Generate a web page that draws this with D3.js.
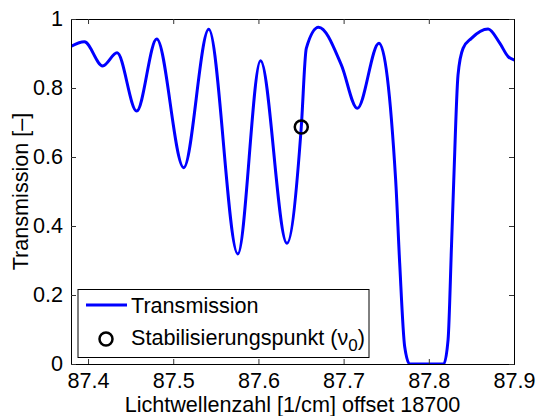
<!DOCTYPE html>
<html>
<head>
<meta charset="utf-8">
<script src="https://cdn.jsdelivr.net/npm/d3@7"></script>
<style>
  body { margin: 0; background: #fff; }
  svg text { font-family: "Liberation Sans", Arial, sans-serif; }
</style>
</head>
<body>
<svg id="chart" width="536" height="416"></svg>
<script>
// wavenumber (offset 18700) and transmission
const wavenumber = [87.378, 87.3957, 87.4172, 87.4341, 87.4571, 87.4806, 87.5123, 87.5417,
  87.5758, 87.6025, 87.6334, 87.6503, 87.6562, 87.6706,
  87.6973, 87.7161, 87.7415, 87.7611, 87.7658, 87.7717, 87.7776, 87.8175, 87.8226, 87.8266,
  87.8293, 87.8343, 87.8402, 87.85, 87.8696, 87.8833, 87.8931, 87.901];
const transmission = [0.918, 0.934, 0.864, 0.902, 0.733, 0.942, 0.569, 0.970,
  0.319, 0.879, 0.350, 0.687, 0.915, 0.976,
  0.867, 0.741, 0.930, 0.533, 0.293, 0.05, 0, 0, 0.07, 0.34,
  0.533, 0.838, 0.915, 0.944, 0.971, 0.930, 0.891, 0.881];
const stabPoint = [{ x: 87.6503, y: 0.687 }];
const xTicks = [87.4, 87.5, 87.6, 87.7, 87.8, 87.9];
const yTicks = [0, 0.2, 0.4, 0.6, 0.8, 1];

const svg = d3.select("#chart");
const mLeft = 71, mRight = 514, mTop = 19, mBottom = 364;
const fs = 21.6;

const x = d3.scaleLinear().domain([87.38, 87.9]).range([mLeft, mRight]);
const y = d3.scaleLinear().domain([0, 1]).range([mBottom, mTop]);

svg.append("defs").append("clipPath").attr("id", "clip")
  .append("rect").attr("x", mLeft).attr("y", mTop).attr("width", mRight - mLeft).attr("height", mBottom - mTop);

const data = wavenumber.map((d, i) => ({ x: d, y: transmission[i] }));

const line = d3.line().x(d => x(d.x)).y(d => y(d.y)).curve(d3.curveMonotoneX);

svg.append("path")
  .datum(data)
  .attr("clip-path", "url(#clip)")
  .attr("d", line)
  .attr("fill", "none")
  .attr("stroke", "#0000ff")
  .attr("stroke-width", 3);

svg.selectAll(".stab")
  .data(stabPoint)
  .enter()
  .append("circle")
  .attr("cx", d => x(d.x))
  .attr("cy", d => y(d.y))
  .attr("r", 6.5)
  .attr("fill", "none")
  .attr("stroke", "#000")
  .attr("stroke-width", 2.5);

// axes: ticks inward on all four sides
const tl = 5;
const xBottom = svg.append("g").attr("transform", `translate(0,${mBottom})`)
  .call(d3.axisBottom(x).tickValues(xTicks).tickSize(-tl).tickPadding(8).tickFormat(d3.format(".1f")));
const xTop = svg.append("g").attr("transform", `translate(0,${mTop})`)
  .call(d3.axisTop(x).tickValues(xTicks).tickSize(-tl).tickFormat(""));
const yLeft = svg.append("g").attr("transform", `translate(${mLeft},0)`)
  .call(d3.axisLeft(y).tickValues(yTicks).tickSize(-tl).tickPadding(8).tickFormat(d => d === 0 || d === 1 ? d : d3.format(".1f")(d)));
const yRight = svg.append("g").attr("transform", `translate(${mRight},0)`)
  .call(d3.axisRight(y).tickValues(yTicks).tickSize(-tl).tickFormat(""));

[xBottom, xTop, yLeft, yRight].forEach(g => {
  g.select(".domain").attr("stroke", "#000").attr("stroke-width", 1);
  g.selectAll(".tick line").attr("stroke", "#333");
  g.selectAll(".tick text").attr("font-size", fs).attr("fill", "#000")
    .style("font-family", "'Liberation Sans', Arial, sans-serif");
});
xBottom.selectAll(".tick text").attr("dy", "0.72em");

svg.append("text")
  .attr("x", (mLeft + mRight) / 2)
  .attr("y", 411.5)
  .attr("text-anchor", "middle")
  .attr("font-size", fs)
  .text("Lichtwellenzahl [1/cm] offset 18700");

svg.append("text")
  .attr("transform", `translate(28,${(mTop + mBottom) / 2}) rotate(-90)`)
  .attr("text-anchor", "middle")
  .attr("font-size", fs)
  .text("Transmission [–]");

// legend
const lg = svg.append("g");
lg.append("rect")
  .attr("x", 78).attr("y", 289.5).attr("width", 291).attr("height", 68)
  .attr("fill", "#fff").attr("stroke", "#000").attr("stroke-width", 1);
lg.append("line")
  .attr("x1", 86).attr("x2", 127).attr("y1", 305).attr("y2", 305)
  .attr("stroke", "#0000ff").attr("stroke-width", 3);
lg.append("text").attr("x", 131).attr("y", 312.5).attr("font-size", fs).text("Transmission");
lg.append("circle")
  .attr("cx", 106).attr("cy", 339).attr("r", 6.5)
  .attr("fill", "none").attr("stroke", "#000").attr("stroke-width", 2.5);
const t2 = lg.append("text").attr("x", 131).attr("y", 344.5).attr("font-size", fs);
t2.append("tspan").text("Stabilisierungspunkt (ν");
t2.append("tspan").attr("dy", 6).attr("font-size", 17).text("0");
t2.append("tspan").attr("dy", -6).text(")");
</script>
</body>
</html>
